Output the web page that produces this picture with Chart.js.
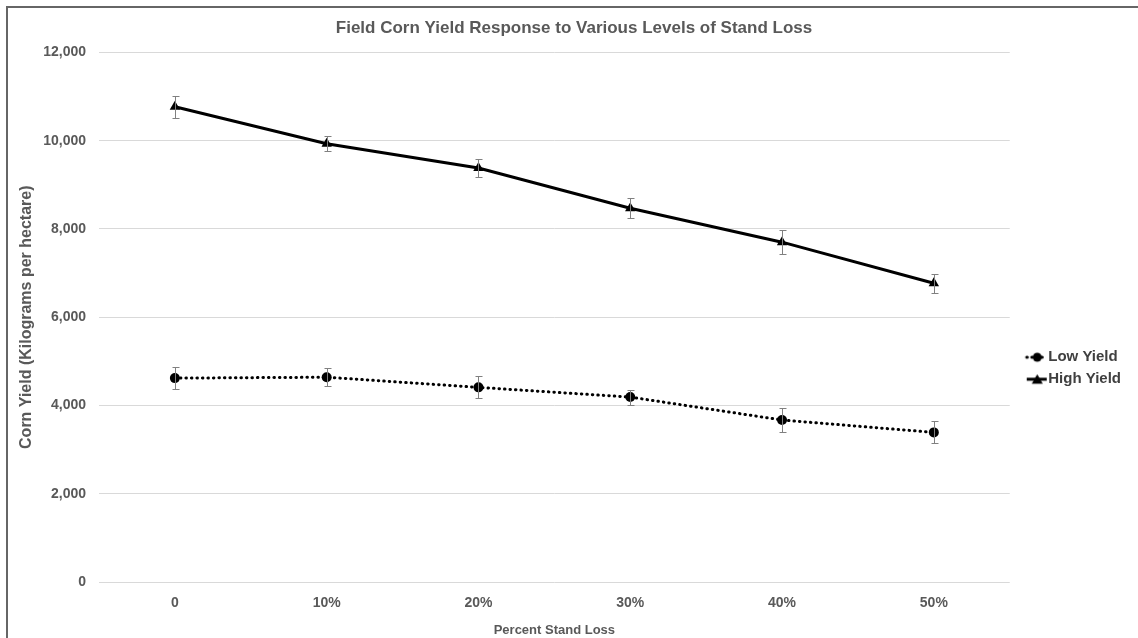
<!DOCTYPE html>
<html>
<head>
<meta charset="utf-8">
<script src="https://cdn.jsdelivr.net/npm/chart.js@4"></script>
<style>
  body { margin: 0; background: #fff; }
  #wrap { position: relative; width: 1138px; height: 638px; overflow: hidden; }
  #frame { position: absolute; left: 6px; top: 6px; width: 1200px; height: 700px; border-left: 2px solid #666; border-top: 2px solid #666; pointer-events: none; }
  canvas { position: absolute; left: 0; top: 0; }
</style>
</head>
<body>
<div id="wrap">
  <canvas id="chart" width="1138" height="638"></canvas>
  <div id="frame"></div>
</div>
<script>
const categories = ["0", "10%", "20%", "30%", "40%", "50%"];
const lowYield = [4620, 4640, 4410, 4190, 3670, 3390];
const highYield = [10770, 9930, 9380, 8470, 7700, 6770];
const lowErr = [250, 200, 250, 170, 270, 250];
const highErr = [250, 170, 200, 230, 270, 220];
const yTicks = [0, 2000, 4000, 6000, 8000, 10000, 12000];

const gray = "#595959";
const family = "'Liberation Sans', Arial, sans-serif";
const font = { family: family, weight: "bold", size: 14 };

// legend sample: short line with the marker in the middle
function sample(dotted, marker) {
  const c = document.createElement("canvas");
  c.width = 38; c.height = 12;
  const g = c.getContext("2d");
  g.strokeStyle = "#000";
  g.lineWidth = 3;
  if (dotted) { g.setLineDash([0.5, 4.5]); g.lineCap = "round"; }
  g.beginPath(); g.moveTo(17, 6); g.lineTo(37, 6); g.stroke();
  g.setLineDash([]);
  g.fillStyle = "#000";
  g.beginPath();
  if (marker === "circle") {
    g.arc(27.5, 6, 4.5, 0, Math.PI * 2);
  } else {
    g.moveTo(27.5, 1); g.lineTo(33, 10.5); g.lineTo(22, 10.5); g.closePath();
  }
  g.fill();
  return c;
}
const samples = [sample(true, "circle"), sample(false, "triangle")];
const errs = [lowErr, highErr];

const errorBars = {
  id: "errorBars",
  afterDatasetsDraw(chart) {
    const ctx = chart.ctx;
    const y = chart.scales.y;
    ctx.save();
    ctx.strokeStyle = "#808080";
    ctx.lineWidth = 1;
    chart.data.datasets.forEach((ds, i) => {
      const meta = chart.getDatasetMeta(i);
      meta.data.forEach((pt, j) => {
        const top = Math.round(y.getPixelForValue(ds.data[j] + errs[i][j])) + 0.5;
        const bot = Math.round(y.getPixelForValue(ds.data[j] - errs[i][j])) + 0.5;
        const x = Math.round(pt.x) + 0.5;
        ctx.beginPath();
        ctx.moveTo(x, top); ctx.lineTo(x, bot);
        ctx.moveTo(x - 3, top); ctx.lineTo(x + 4, top);
        ctx.moveTo(x - 3, bot); ctx.lineTo(x + 4, bot);
        ctx.stroke();
      });
    });
    ctx.restore();
  }
};

new Chart(document.getElementById("chart"), {
  type: "line",
  data: {
    labels: categories,
    datasets: [
      {
        label: "Low Yield",
        data: lowYield,
        borderColor: "#000",
        backgroundColor: "#000",
        borderWidth: 3,
        borderDash: [0.5, 5],
        borderCapStyle: "round",
        pointStyle: "circle",
        pointRadius: 5,
        pointBorderWidth: 0,
        tension: 0
      },
      {
        label: "High Yield",
        data: highYield,
        borderColor: "#000",
        backgroundColor: "#000",
        borderWidth: 3,
        pointStyle: "triangle",
        pointRadius: 6,
        pointBorderWidth: 0,
        tension: 0
      }
    ]
  },
  options: {
    responsive: false,
    animation: false,
    layout: { padding: { left: 17, right: 7, top: 4, bottom: 0 } },
    plugins: {
      title: {
        display: true,
        text: "Field Corn Yield Response to Various Levels of Stand Loss",
        color: gray,
        font: { family: family, weight: "bold", size: 17 },
        padding: { top: 14, bottom: 14 }
      },
      legend: {
        position: "right",
        align: "center",
        title: { display: true, text: "", padding: { top: 80, bottom: 0 } },
        labels: {
          usePointStyle: true,
          pointStyleWidth: 24,
          color: "#404040",
          font: { family: family, weight: "bold", size: 15 },
          padding: 7,
          generateLabels(chart) {
            const items = Chart.defaults.plugins.legend.labels.generateLabels(chart);
            items.forEach((it, i) => { it.pointStyle = samples[i]; });
            return items;
          }
        }
      },
      tooltip: { enabled: false }
    },
    scales: {
      x: {
        offset: true,
        afterFit(axis) { axis.height = 56; },
        grid: { display: false, drawTicks: false },
        border: { display: false },
        ticks: { color: gray, font: font, padding: 13 },
        title: { display: true, text: "Percent Stand Loss", color: gray, font: { family: family, weight: "bold", size: 13 }, padding: { top: 0, bottom: 0 } }
      },
      y: {
        min: 0,
        max: 12000,
        afterFit(axis) { axis.width = 82; },
        afterBuildTicks(axis) { axis.ticks = yTicks.map(v => ({ value: v })); },
        grid: { color: "#d9d9d9", drawTicks: false },
        border: { display: false },
        ticks: {
          color: gray,
          font: font,
          padding: 13,
          callback: v => v.toLocaleString("en-US")
        },
        title: { display: true, text: "Corn Yield (Kilograms per hectare)", color: gray, font: { family: family, weight: "bold", size: 16 }, padding: { top: 0, bottom: 0 } }
      }
    }
  },
  plugins: [errorBars]
});
</script>
</body>
</html>
